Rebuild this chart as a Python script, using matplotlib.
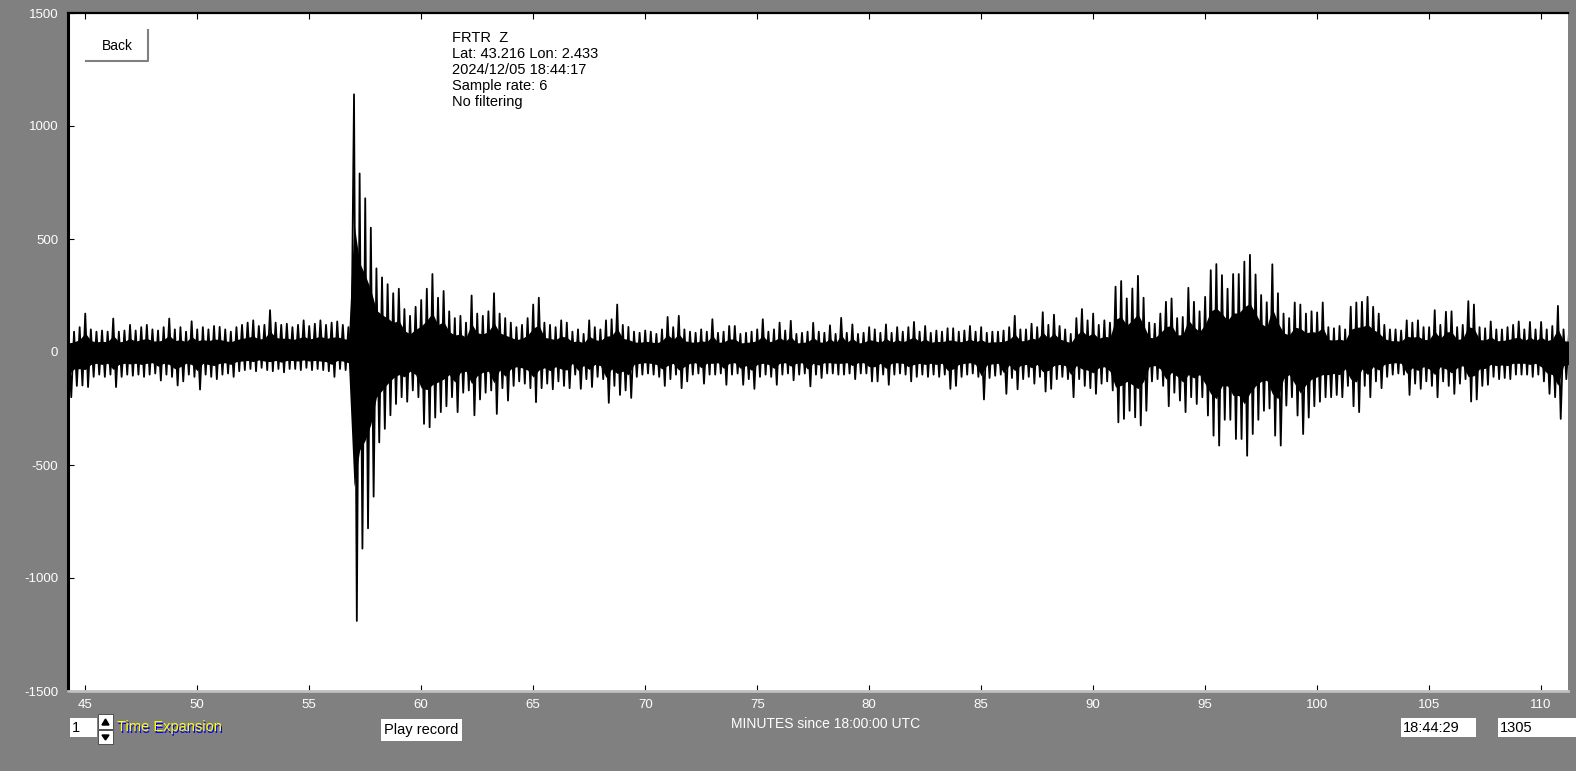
import numpy as np
import matplotlib
matplotlib.use('Agg')
import matplotlib.pyplot as plt
from matplotlib.patches import Rectangle, Polygon

plt.rcParams['font.family'] = ['Liberation Sans', 'DejaVu Sans']
plt.rcParams['axes.unicode_minus'] = False

# station info
station = 'FRTR  Z'
lat, lon = '43.216', '2.433'
stamp = '2024/12/05 18:44:17'
rate = 6

# trace envelope, one max/min pair every quarter minute starting at 44.25 min
t0, dt = 44.25, 0.25
hi = [80, 90, 110, 170, 100, 90, 95, 90, 148, 90,
      95, 120, 95, 110, 120, 100, 95, 110, 148, 100,
      110, 90, 136, 100, 110, 100, 115, 111, 100, 90,
      110, 120, 130, 140, 115, 120, 185, 130, 120, 125,
      110, 120, 140, 115, 125, 140, 120, 130, 135, 120,
      110, 1140, 790, 680, 550, 370, 330, 300, 260, 280,
      190, 160, 200, 230, 280, 345, 240, 270, 180, 150,
      160, 130, 250, 170, 160, 180, 260, 170, 150, 130,
      110, 120, 150, 210, 240, 130, 120, 110, 140, 130,
      90, 100, 80, 140, 110, 100, 140, 145, 210, 120,
      111, 90, 85, 95, 90, 80, 100, 155, 110, 160,
      100, 90, 85, 100, 90, 145, 85, 90, 115, 115,
      80, 85, 90, 100, 145, 90, 100, 130, 95, 138,
      80, 85, 90, 129, 90, 85, 118, 80, 151, 85,
      122, 80, 85, 110, 100, 85, 122, 85, 110, 90,
      110, 133, 90, 115, 85, 95, 90, 105, 105, 90,
      95, 115, 90, 110, 85, 90, 90, 95, 110, 160,
      100, 100, 125, 110, 176, 120, 165, 115, 100, 80,
      150, 190, 140, 170, 120, 140, 130, 289, 314, 237,
      281, 337, 240, 130, 125, 170, 222, 237, 150, 155,
      284, 222, 180, 244, 362, 389, 340, 280, 345, 345,
      400, 430, 343, 252, 220, 388, 260, 170, 150, 219,
      210, 170, 180, 175, 219, 110, 105, 115, 100, 200,
      219, 222, 244, 200, 170, 120, 100, 100, 95, 140,
      130, 140, 110, 110, 185, 120, 178, 180, 110, 120,
      225, 210, 110, 105, 135, 100, 100, 110, 120, 135,
      100, 133, 100, 133, 100, 115, 204, 100, 95, 100, 90]
lo = [-200, -150, -148, -155, -110, -100, -110, -100, -155, -110,
      -100, -105, -100, -110, -100, -95, -126, -100, -110, -148,
      -130, -100, -110, -166, -100, -110, -120, -100, -95, -110,
      -85, -80, -75, -85, -70, -80, -85, -75, -90, -75,
      -75, -80, -70, -80, -75, -80, -85, -110, -75, -80,
      -95, -1190, -870, -780, -640, -400, -340, -280, -230, -200,
      -220, -170, -200, -318, -333, -290, -266, -240, -200, -266,
      -180, -170, -280, -210, -180, -170, -274, -160, -215, -150,
      -130, -140, -160, -222, -160, -140, -165, -130, -150, -160,
      -100, -163, -120, -155, -110, -120, -225, -150, -190, -170,
      -203, -110, -100, -95, -100, -110, -150, -120, -100, -160,
      -130, -100, -95, -140, -100, -100, -95, -145, -100, -95,
      -145, -120, -163, -110, -100, -110, -145, -100, -95, -125,
      -100, -95, -152, -100, -115, -95, -95, -100, -100, -95,
      -120, -95, -95, -130, -130, -100, -145, -100, -95, -100,
      -130, -110, -100, -110, -100, -110, -100, -163, -150, -110,
      -100, -95, -110, -210, -115, -105, -100, -185, -115, -165,
      -120, -110, -140, -110, -175, -163, -120, -110, -120, -200,
      -120, -150, -160, -185, -140, -130, -170, -311, -296, -260,
      -289, -325, -260, -130, -120, -150, -240, -180, -215, -266,
      -200, -230, -200, -281, -370, -414, -300, -300, -385, -385,
      -459, -363, -300, -260, -250, -370, -414, -237, -200, -281,
      -363, -290, -240, -220, -200, -200, -190, -200, -150, -240,
      -266, -150, -200, -130, -160, -110, -100, -95, -100, -190,
      -140, -163, -130, -150, -200, -130, -150, -185, -140, -120,
      -219, -210, -150, -145, -110, -120, -115, -120, -100, -100,
      -100, -110, -100, -130, -185, -200, -296, -120, -110, -100, -100]

xticks = [45, 50, 55, 60, 65, 70, 75, 80, 85, 90, 95, 100, 105, 110]
yticks = [1500, 1000, 500, 0, -500, -1000, -1500]

W, H = 1576, 771
fig = plt.figure(figsize=(W / 100, H / 100), dpi=100, facecolor='#808080')
ax = fig.add_axes([68 / W, 1 - 691 / H, 1500 / W, 678 / H])
ax.set_facecolor('white')

t = t0 + dt * np.arange(len(hi))
hi_a = np.array(hi, dtype=float)
lo_a = np.array(lo, dtype=float)
xs = np.column_stack([t, t + dt / 2]).ravel()
ys = np.column_stack([hi_a, lo_a]).ravel()
# dense core of the trace, then the peaks on top
ax.fill_between(t, lo_a * 0.5, hi_a * 0.5, color='black', lw=0)
ax.plot(xs, ys, color='black', lw=1.3)

ax.set_xlim(44.23, 111.2)
ax.set_ylim(-1500, 1500)
ax.set_xticks(xticks)
ax.set_yticks(yticks)
ax.tick_params(axis='x', direction='in', length=4, color='black', top=True,
               labelcolor='white', labelsize=9.5, pad=6)
ax.tick_params(axis='y', direction='in', length=4, color='black',
               labelcolor='white', labelsize=9.5, pad=7)
ax.spines['left'].set_linewidth(2.2)
ax.spines['top'].set_linewidth(1.6)
ax.spines['bottom'].set_color('#c0c0c0')
ax.spines['bottom'].set_linewidth(2)
ax.spines['right'].set_visible(False)

# info block
info = [station, 'Lat: %s Lon: %s' % (lat, lon), stamp,
        'Sample rate: %d' % rate, 'No filtering']

# overlay in pixel coords for the window widgets
ui = fig.add_axes([0, 0, 1, 1])
ui.set_xlim(0, W)
ui.set_ylim(H, 0)
ui.axis('off')
ui.patch.set_alpha(0)

for k, s in enumerate(info):
    ui.text(452, 38 + 16 * k, s, fontsize=10.5, va='center', ha='left', color='black')

# Back button
ui.add_patch(Rectangle((86, 30), 62, 31, facecolor='white', edgecolor='none'))
ui.plot([148, 148, 86], [30, 61, 61], color='#808080', lw=1.5)
ui.text(117, 45.5, 'Back', fontsize=10, ha='center', va='center')

# time expansion spinner
ui.add_patch(Rectangle((70, 718), 27, 19, facecolor='white', edgecolor='none'))
ui.text(72, 728, '1', fontsize=10.5, ha='left', va='center')
ui.add_patch(Rectangle((98, 714), 15, 15, facecolor='white', edgecolor='#404040', lw=0.6))
ui.add_patch(Rectangle((98, 730), 15, 14, facecolor='white', edgecolor='#404040', lw=0.6))
ui.add_patch(Polygon([[102, 725], [109, 725], [105.5, 719]], color='black'))
ui.add_patch(Polygon([[102, 735], [109, 735], [105.5, 740]], color='black'))
ui.text(118, 729, 'Time Expansion', fontsize=10.5, ha='left', va='center', color='#0000ff')
ui.text(117, 727.5, 'Time Expansion', fontsize=10.5, ha='left', va='center', color='#ffff00')

# play button
ui.add_patch(Rectangle((381, 719), 81, 22, facecolor='white', edgecolor='none'))
ui.text(421.5, 730, 'Play record', fontsize=10.5, ha='center', va='center')

ui.text(826, 724, 'MINUTES since 18:00:00 UTC', fontsize=10, ha='center', va='center',
        color='white')

# clock and counter boxes
ui.add_patch(Rectangle((1401, 718), 75, 19, facecolor='white', edgecolor='none'))
ui.text(1403, 727.5, '18:44:29', fontsize=10.5, ha='left', va='center')
ui.add_patch(Rectangle((1498, 718), 80, 19, facecolor='white', edgecolor='none'))
ui.text(1500, 727.5, '1305', fontsize=10.5, ha='left', va='center')

fig.savefig('out.png', dpi=100, facecolor=fig.get_facecolor())
